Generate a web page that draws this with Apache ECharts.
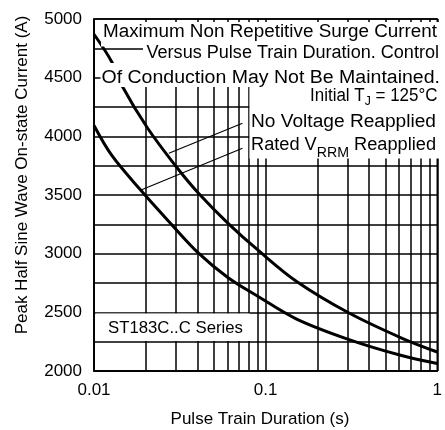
<!DOCTYPE html>
<html><head><meta charset="utf-8">
<script src="https://cdn.jsdelivr.net/npm/echarts@6/dist/echarts.min.js"></script>
<style>html,body{margin:0;padding:0;background:#fff}#c{width:445px;height:430px}</style>
</head><body><div id="c"></div>
<script>
// ---- data ----
const xTicks = [0.01, 0.1, 1];
const xTickLabels = ['0.01', '0.1', '1'];
const yTicks = [2000, 2500, 3000, 3500, 4000, 4500, 5000];
const xMinorGrid = [0.02, 0.03, 0.04, 0.05, 0.06, 0.07, 0.08, 0.09, 0.2, 0.3, 0.4, 0.5, 0.6, 0.7, 0.8, 0.9];

const noVoltageX = [0.01, 0.0127, 0.0147, 0.0205, 0.0304, 0.0405, 0.0602, 0.0914, 0.1515, 0.3062, 0.6194, 1];
const noVoltageY = [4870, 4634, 4420, 4071, 3734, 3517, 3261, 3023, 2763, 2494, 2281, 2162];

const ratedX = [0.01, 0.0127, 0.0188, 0.0273, 0.0405, 0.0602, 0.0914, 0.1515, 0.3062, 0.6194, 1];
const ratedY = [4092, 3837, 3538, 3274, 3006, 2797, 2631, 2443, 2268, 2132, 2064];

const leaderNoVoltageX = [0.0273, 0.0733];
const leaderNoVoltageY = [3855, 4111];
const leaderRatedX = [0.0188, 0.0733];
const leaderRatedY = [3543, 3898];

// ---- helpers ----
const FONT = '"Liberation Sans", Arial, sans-serif';
const mctx = document.createElement('canvas').getContext('2d');
function tw(t, size) { mctx.font = size + 'px ' + FONT; return mctx.measureText(t).width; }
function zip(xs, ys) { return xs.map((x, i) => [x, ys[i]]); }
function run(segs, left, right, cy) {
  let w = 0; const pos = [];
  segs.forEach(s => { pos.push(w); w += tw(s.t, s.size); });
  const sx = (right - left) / w;
  return {
    type: 'group', x: left, y: cy, scaleX: sx, z: 60,
    children: segs.map((s, i) => ({
      type: 'text', x: pos[i], y: s.dy || 0, z: 60,
      style: { text: s.t, fontSize: s.size, fontFamily: FONT, fill: '#000', align: 'left', verticalAlign: 'middle' }
    }))
  };
}
function wrect(x1, y1, x2, y2) {
  return { type: 'rect', z: 50, shape: { x: x1, y: y1, width: x2 - x1, height: y2 - y1 }, style: { fill: '#fff' }, silent: true };
}

const chart = echarts.init(document.getElementById('c'), null, { renderer: 'canvas' });
const black = '#000';
const option = {
  animation: false,
  backgroundColor: '#fff',
  grid: { left: 94, right: 2, top: 19, bottom: 59, show: true, borderColor: black, borderWidth: 1.5 },
  xAxis: {
    type: 'log', logBase: 10, min: 0.01, max: 1,
    axisLine: { show: true, lineStyle: { color: black, width: 1.5 } },
    axisTick: { show: false },
    axisLabel: {
      color: black, fontSize: 17, fontFamily: FONT, margin: 11,
      formatter: v => {
        const i = xTicks.findIndex(t => Math.abs(Math.log10(t) - Math.log10(v)) < 1e-6);
        return i >= 0 ? xTickLabels[i] : '';
      }
    },
    splitLine: { show: true, lineStyle: { color: black, width: 1.5 } }
  },
  yAxis: {
    type: 'value', min: 2000, max: 5000, interval: 250,
    axisLine: { show: true, lineStyle: { color: black, width: 1.5 } },
    axisTick: { show: false },
    axisLabel: {
      color: black, fontSize: 17, fontFamily: FONT, margin: 12,
      formatter: v => yTicks.includes(v) ? String(v) : ''
    },
    splitLine: { show: true, lineStyle: { color: black, width: 1.5 } }
  },
  series: [
    {
      name: 'grid', type: 'line', z: 1, silent: true, data: [[0.01, 2000]], showSymbol: false,
      lineStyle: { opacity: 0 },
      markLine: {
        silent: true, symbol: ['none', 'none'], label: { show: false },
        lineStyle: { color: black, width: 1.5, type: 'solid' },
        data: xMinorGrid.map(v => ({ xAxis: v }))
      }
    },
    {
      name: 'leader1', type: 'line', z: 3, silent: true, showSymbol: false,
      data: zip(leaderNoVoltageX, leaderNoVoltageY), lineStyle: { color: black, width: 1.1 }
    },
    {
      name: 'leader2', type: 'line', z: 3, silent: true, showSymbol: false,
      data: zip(leaderRatedX, leaderRatedY), lineStyle: { color: black, width: 1.1 }
    },
    {
      name: 'No Voltage Reapplied', type: 'line', z: 5, smooth: 0.35, showSymbol: false,
      data: zip(noVoltageX, noVoltageY), lineStyle: { color: black, width: 3 }
    },
    {
      name: 'Rated VRRM Reapplied', type: 'line', z: 5, smooth: 0.35, showSymbol: false,
      data: zip(ratedX, ratedY), lineStyle: { color: black, width: 3 }
    }
  ],
  graphic: [
    wrect(101, 22, 440, 46.5),
    wrect(143, 46, 440, 64),
    wrect(100.5, 63, 440, 87),
    wrect(249.5, 86, 440, 158.5),
    wrect(95.5, 313.5, 250, 341),
    run([{ t: 'Maximum Non Repetitive Surge Current', size: 18 }], 103, 437, 32.5),
    run([{ t: 'Versus Pulse Train Duration. Control', size: 18 }], 146.5, 439, 53),
    run([{ t: 'Of Conduction May Not Be Maintained.', size: 18 }], 101.5, 440, 78.5),
    run([{ t: 'Initial T', size: 18 }, { t: 'J', size: 13, dy: 5 }, { t: ' = 125°C', size: 18 }], 310, 437.5, 96),
    run([{ t: 'No Voltage Reapplied', size: 18 }], 251, 436, 122.5),
    run([{ t: 'Rated V', size: 18 }, { t: 'RRM', size: 14, dy: 8 }, { t: ' Reapplied', size: 18 }], 251, 436, 145),
    run([{ t: 'ST183C..C Series', size: 17 }], 108, 243, 328),
    {
      type: 'text', x: 22, y: 175, rotation: Math.PI / 2, z: 60,
      style: { text: 'Peak Half Sine Wave On-state Current (A)', fontSize: 17, fontFamily: FONT, fill: black, align: 'center', verticalAlign: 'middle' }
    },
    {
      type: 'text', x: 260, y: 419, z: 60,
      style: { text: 'Pulse Train Duration (s)', fontSize: 17, fontFamily: FONT, fill: black, align: 'center', verticalAlign: 'middle' }
    }
  ]
};
chart.setOption(option);
</script>
</body></html>
